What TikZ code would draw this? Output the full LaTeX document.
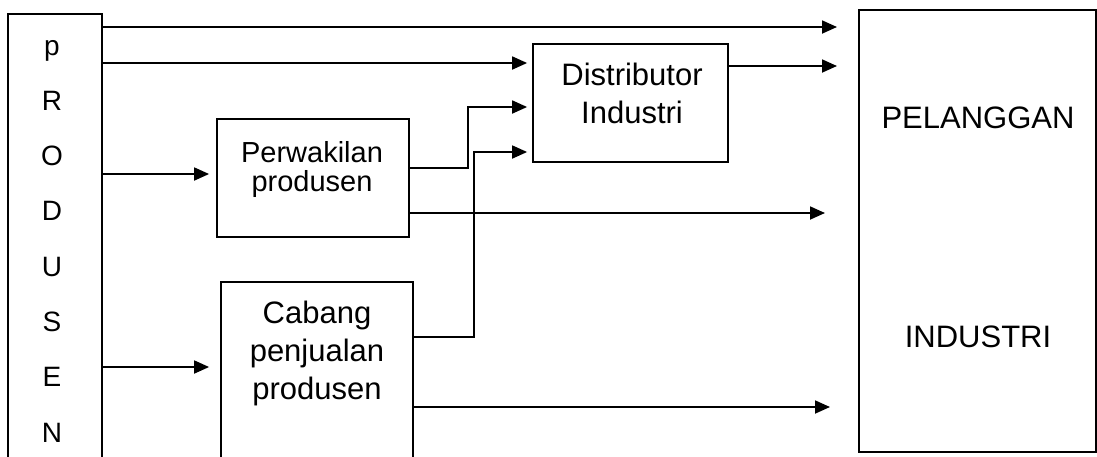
\documentclass[tikz,border=0pt]{standalone}
\usepackage{fontspec}
\setmainfont{Liberation Sans}
\usetikzlibrary{arrows.meta}
\tikzset{
  box/.style={draw, line width=1.8pt, rectangle, inner sep=0pt},
  flow/.style={line width=1.8pt, -{Triangle[length=15pt,width=13pt]}},
  txt/.style={anchor=base, inner sep=0pt, font=\fontsize{31}{38}\selectfont},
  small/.style={anchor=base, inner sep=0pt, font=\fontsize{29}{28}\selectfont},
  letter/.style={anchor=base, inner sep=0pt, font=\fontsize{28}{30}\selectfont}
}
\begin{document}
\begin{tikzpicture}[x=1pt,y=-1pt]
\useasboundingbox (0,0) rectangle (1097,456);
\clip (0,0) rectangle (1097,456);
\fill[white] (0,0) rectangle (1097,456);

% boxes
\node[box, minimum width=94pt, minimum height=466pt] (prod) at (55,247) {};
\node[box, minimum width=192pt, minimum height=118pt] (perw) at (313,178) {};
\node[box, minimum width=192pt, minimum height=190pt] (cab) at (317,377) {};
\node[box, minimum width=195pt, minimum height=118pt] (dist) at (630.5,103) {};
\node[box, minimum width=237pt, minimum height=442pt] (pel) at (977.5,231) {};

% vertical producer label
\foreach \ch/\yy in {p/55,R/110.3,O/165.6,D/220.9,U/276.2,S/331.5,E/386.8,N/442}
  \node[letter] at (52,\yy) {\ch};

% box labels
\node[small] at (312,162.7) {Perwakilan};
\node[small] at (312,191) {produsen};
\node[txt] at (317,323) {Cabang};
\node[txt] at (317,361) {penjualan};
\node[txt] at (317,399) {produsen};
\node[txt] at (632,85) {Distributor};
\node[txt] at (632,123) {Industri};
\node[txt] at (978,128) {PELANGGAN};
\node[txt] at (978,347) {INDUSTRI};

% free ends in front of the customer box
\coordinate (e1) at (837,27);
\coordinate (e2) at (837,66);
\coordinate (e3) at (825,213);
\coordinate (e4) at (830,407);

% connectors
\draw[flow] (prod.east |- e1) -- (e1);
\draw[flow] (prod.east |- 0,63) -- ([xshift=-5pt]dist.west |- 0,63);
\draw[flow] (prod.east |- 0,174) -- ([xshift=-7pt]perw.west |- 0,174);
\draw[flow] (prod.east |- 0,367) -- ([xshift=-11pt]cab.west |- 0,367);
\draw[flow] (perw.east |- 0,168) -- (468,168) -- (468,107) -- ([xshift=-5pt]dist.west |- 0,107);
\draw[flow] (perw.east |- e3) -- (e3);
\draw[flow] (cab.east |- 0,337) -- (474,337) -- (474,152) -- ([xshift=-5pt]dist.west |- 0,152);
\draw[flow] (cab.east |- e4) -- (e4);
\draw[flow] (dist.east |- e2) -- (e2);
\end{tikzpicture}
\end{document}
